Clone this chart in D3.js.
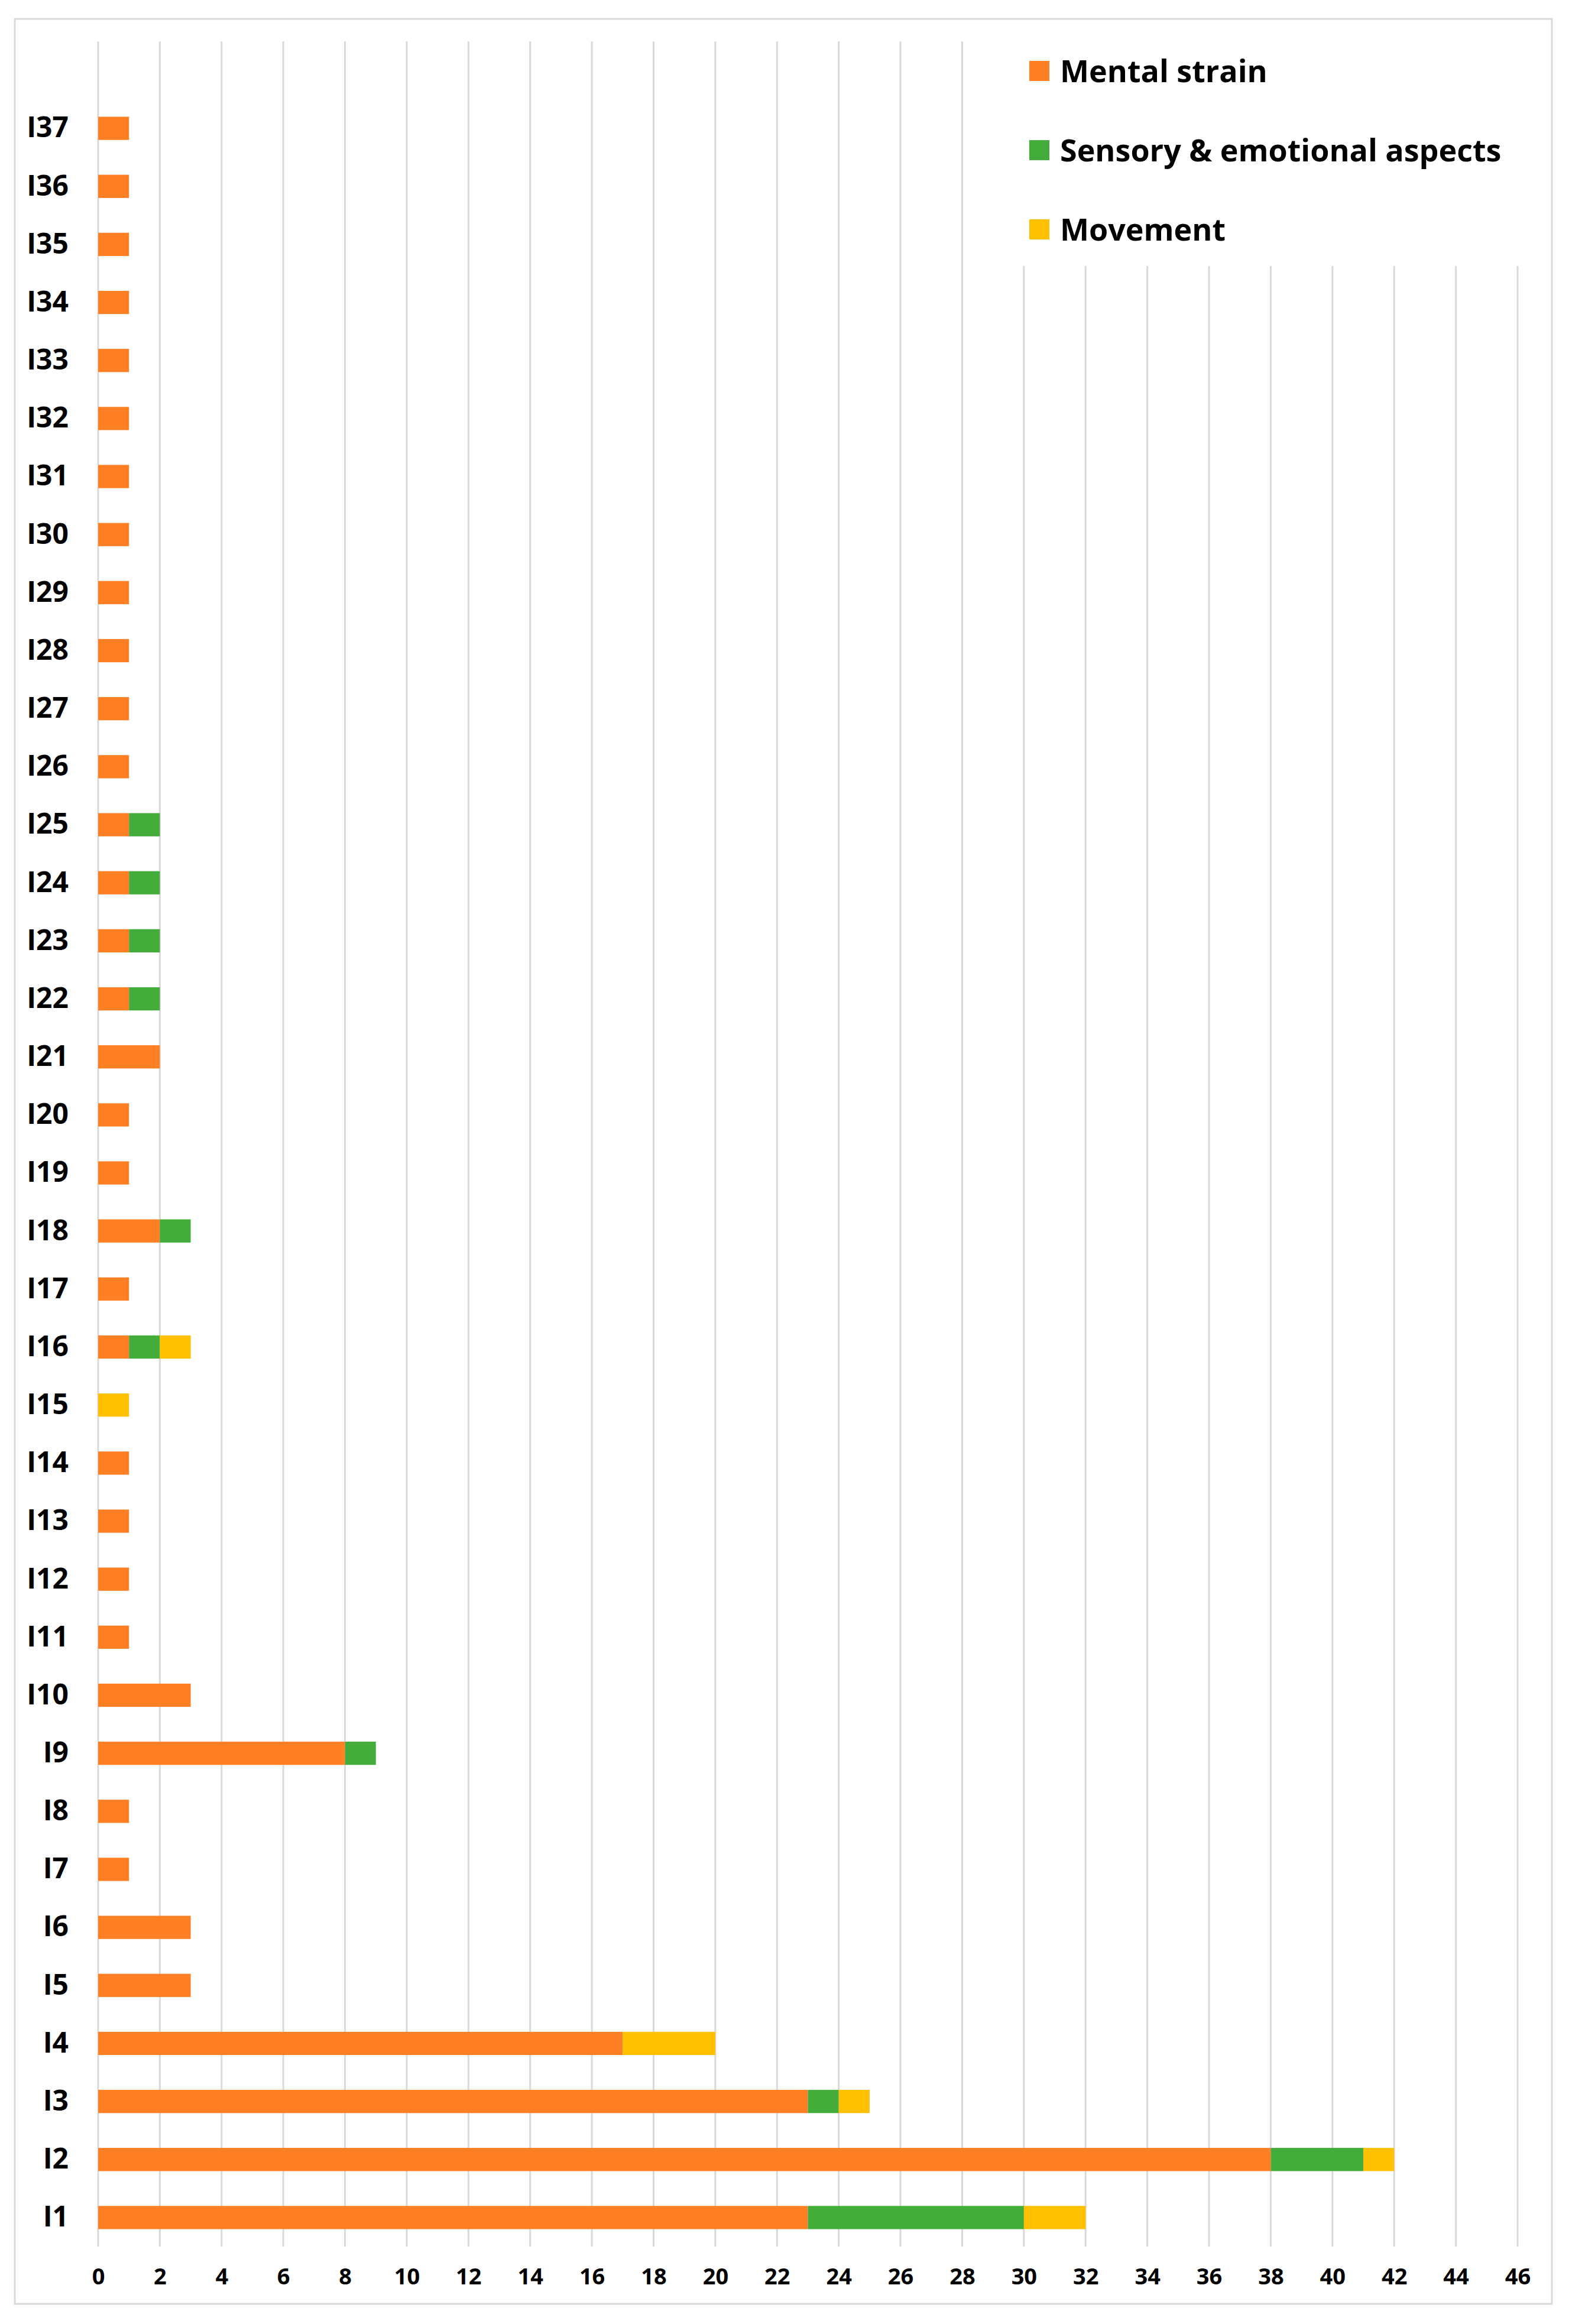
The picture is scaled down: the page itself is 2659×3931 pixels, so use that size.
<!DOCTYPE html>
<html>
<head>
<meta charset="utf-8">
<script src="https://cdn.jsdelivr.net/npm/d3@7"></script>
<style>
  body { margin: 0; background: #ffffff; }
  text { font-family: "Open Sans", "Noto Sans", sans-serif; font-weight: 700; fill: #000000; }
</style>
</head>
<body>
<div id="chart"></div>
<script>

// categories, bottom (I1) to top (I37)
var categories = ["I1", "I2", "I3", "I4", "I5", "I6", "I7", "I8", "I9", "I10",
  "I11", "I12", "I13", "I14", "I15", "I16", "I17", "I18", "I19", "I20",
  "I21", "I22", "I23", "I24", "I25", "I26", "I27", "I28", "I29", "I30",
  "I31", "I32", "I33", "I34", "I35", "I36", "I37"];

// series values, same order as categories
var mentalStrain = [23, 38, 23, 17, 3, 3, 1, 1, 8, 3,
  1, 1, 1, 1, 0, 1, 1, 2, 1, 1,
  2, 1, 1, 1, 1, 1, 1, 1, 1, 1,
  1, 1, 1, 1, 1, 1, 1];
var sensoryEmotional = [7, 3, 1, 0, 0, 0, 0, 0, 1, 0,
  0, 0, 0, 0, 0, 1, 0, 1, 0, 0,
  0, 1, 1, 1, 1, 0, 0, 0, 0, 0,
  0, 0, 0, 0, 0, 0, 0];
var movement = [2, 1, 1, 3, 0, 0, 0, 0, 0, 0,
  0, 0, 0, 0, 1, 1, 0, 0, 0, 0,
  0, 0, 0, 0, 0, 0, 0, 0, 0, 0,
  0, 0, 0, 0, 0, 0, 0];

var seriesNames = ["Mental strain", "Sensory & emotional aspects", "Movement"];
var seriesColors = ["#FF7F24", "#43AC3A", "#FFC000"];

// x tick labels
var xTicks = [0, 2, 4, 6, 8, 10, 12, 14, 16, 18, 20, 22, 24, 26, 28, 30, 32, 34, 36, 38, 40, 42, 44, 46];

// set height, width and margins
var svgWidth = 2659;
var svgHeight = 3931;

var margin = {
  top: 168,
  right: 92,
  bottom: 131,
  left: 166
};

var width = svgWidth - margin.left - margin.right;
var height = svgHeight - margin.top - margin.bottom;
var gridTop = 70 - margin.top;

var svg = d3.select("#chart")
  .append("svg")
  .attr("width", svgWidth)
  .attr("height", svgHeight);

// outer frame
svg.append("rect")
  .attr("x", 25)
  .attr("y", 32)
  .attr("width", 2600)
  .attr("height", 3865)
  .attr("fill", "#ffffff")
  .attr("stroke", "#D9D9D9")
  .attr("stroke-width", 3);

var chartGroup = svg.append("g")
  .attr("transform", `translate(${margin.left}, ${margin.top})`);

// build table for stacking
var table = categories.map(function(c, i) {
  return {
    cat: c,
    "Mental strain": mentalStrain[i],
    "Sensory & emotional aspects": sensoryEmotional[i],
    "Movement": movement[i]
  };
});

var stacked = d3.stack().keys(seriesNames)(table);

// scales
var xLinearScale = d3.scaleLinear()
  .domain([0, 46])
  .range([0, width]);

var yBandScale = d3.scaleBand()
  .domain(categories)
  .range([height, 0])
  .paddingInner(0.6)
  .paddingOuter(0.3);

// vertical gridlines
chartGroup.append("g")
  .selectAll("line")
  .data(xTicks)
  .enter()
  .append("line")
  .attr("x1", d => xLinearScale(d))
  .attr("x2", d => xLinearScale(d))
  .attr("y1", gridTop)
  .attr("y2", height)
  .attr("stroke", "#D9D9D9")
  .attr("stroke-width", 3);

// bars
chartGroup.selectAll(".series")
  .data(stacked)
  .enter()
  .append("g")
  .attr("class", "series")
  .attr("fill", (d, i) => seriesColors[i])
  .selectAll("rect")
  .data(d => d)
  .enter()
  .append("rect")
  .attr("x", d => xLinearScale(d[0]))
  .attr("y", d => yBandScale(d.data.cat))
  .attr("width", d => xLinearScale(d[1]) - xLinearScale(d[0]))
  .attr("height", yBandScale.bandwidth());

// bottom axis labels
var bottomAxis = d3.axisBottom(xLinearScale)
  .tickValues(xTicks)
  .tickSize(0)
  .tickPadding(37);

var xAxis = chartGroup.append("g")
  .attr("transform", `translate(0, ${height})`)
  .call(bottomAxis);

xAxis.select(".domain").remove();
xAxis.selectAll("text")
  .attr("font-size", "38px")
  .attr("font-family", "Open Sans")
  .attr("font-weight", 700)
  .attr("fill", "#000000");

// left axis labels
var leftAxis = d3.axisLeft(yBandScale)
  .tickSize(0)
  .tickPadding(50);

var yAxis = chartGroup.append("g")
  .call(leftAxis);

yAxis.select(".domain").remove();
yAxis.selectAll("text")
  .attr("font-size", "48px")
  .attr("font-family", "Open Sans")
  .attr("font-weight", 700)
  .attr("fill", "#000000");

// legend, with white box over the gridlines
var legend = svg.append("g");

legend.append("rect")
  .attr("x", 1690)
  .attr("y", 50)
  .attr("width", 930)
  .attr("height", 400)
  .attr("fill", "#ffffff");

var legendItems = legend.selectAll(".item")
  .data(seriesNames)
  .enter()
  .append("g")
  .attr("class", "item")
  .attr("transform", (d, i) => `translate(1741, ${120 + i * 134})`);

legendItems.append("rect")
  .attr("x", 0)
  .attr("y", -17)
  .attr("width", 34)
  .attr("height", 34)
  .attr("fill", (d, i) => seriesColors[i]);

legendItems.append("text")
  .attr("x", 52)
  .attr("y", 0)
  .attr("dy", "0.36em")
  .attr("font-size", "52px")
  .text(d => d);

</script>
</body>
</html>
